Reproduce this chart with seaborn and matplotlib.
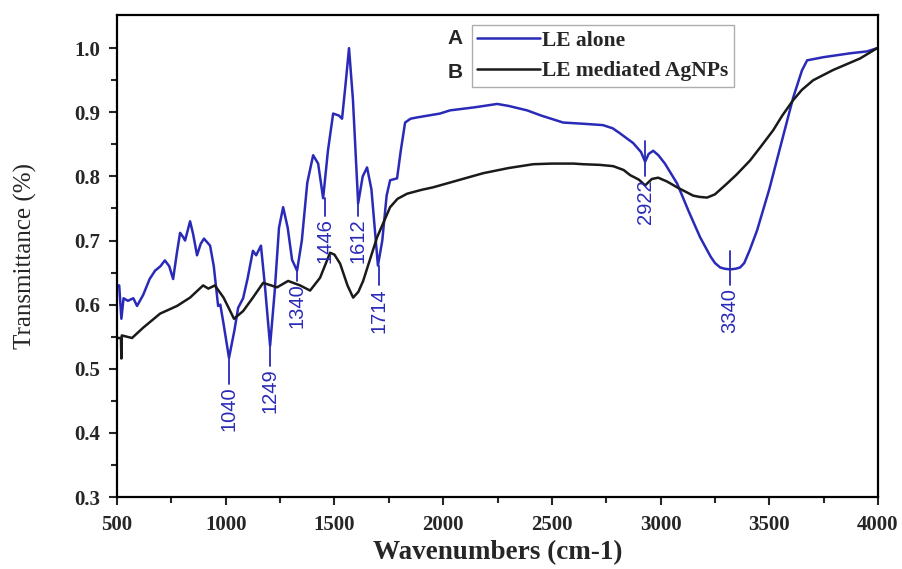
import pandas as pd
import matplotlib
matplotlib.use("Agg")
import matplotlib.pyplot as plt
import seaborn as sns

# FTIR spectra (wavenumber, transmittance)
wn_le = [505, 510, 520, 530, 550, 575, 592, 620, 650, 675, 700, 720, 740, 758, 775,
         790, 805, 813, 836, 850, 868, 885, 900, 928, 945, 965, 975, 990, 1015, 1040,
         1057, 1080, 1100, 1125, 1140, 1162, 1180, 1204, 1225, 1245, 1264, 1285, 1305,
         1328, 1350, 1375, 1402, 1425, 1448, 1470, 1494, 1520, 1535, 1550, 1567, 1585,
         1609, 1630, 1650, 1670, 1700, 1720, 1740, 1756, 1788, 1805, 1825, 1850, 1880,
         1985, 2032, 2150, 2248, 2300, 2386, 2450, 2552, 2650, 2735, 2780, 2814, 2874,
         2910, 2929, 2945, 2966, 2990, 3020, 3076, 3130, 3182, 3230, 3250, 3274, 3295,
         3320, 3345, 3366, 3385, 3410, 3444, 3500, 3550, 3610, 3650, 3674, 3750, 3872,
         3950, 3996]
t_le = [0.63, 0.63, 0.578, 0.61, 0.606, 0.61, 0.598, 0.615, 0.64, 0.653, 0.66, 0.669,
        0.66, 0.64, 0.68, 0.712, 0.705, 0.70, 0.73, 0.71, 0.677, 0.695, 0.703, 0.692,
        0.66, 0.598, 0.60, 0.57, 0.517, 0.56, 0.595, 0.61, 0.64, 0.684, 0.677, 0.692,
        0.63, 0.536, 0.62, 0.72, 0.752, 0.72, 0.67, 0.653, 0.70, 0.79, 0.833, 0.82,
        0.766, 0.84, 0.898, 0.895, 0.89, 0.94, 1.0, 0.92, 0.758, 0.80, 0.814, 0.78,
        0.661, 0.70, 0.77, 0.794, 0.797, 0.84, 0.884, 0.89, 0.892, 0.898, 0.903, 0.908,
        0.913, 0.91, 0.903, 0.895, 0.884, 0.882, 0.880, 0.875, 0.867, 0.852, 0.838,
        0.823, 0.835, 0.84, 0.833, 0.82, 0.789, 0.745, 0.705, 0.675, 0.665, 0.658,
        0.656, 0.655, 0.656, 0.658, 0.665, 0.685, 0.716, 0.78, 0.845, 0.923, 0.965,
        0.981, 0.986, 0.992, 0.995, 1.0]

wn_ag = [505, 518, 520, 522, 569, 620, 698, 776, 836, 896, 920, 950, 990, 1038, 1080,
         1125, 1172, 1236, 1287, 1342, 1388, 1434, 1480, 1500, 1526, 1560, 1586, 1610,
         1632, 1696, 1756, 1790, 1834, 1900, 1954, 2184, 2300, 2414, 2500, 2600, 2644,
         2720, 2782, 2830, 2860, 2900, 2929, 2960, 2989, 3030, 3076, 3150, 3180, 3214,
         3250, 3306, 3350, 3412, 3460, 3518, 3560, 3610, 3650, 3702, 3794, 3918, 3996]
t_ag = [0.548, 0.548, 0.516, 0.552, 0.548, 0.564, 0.586, 0.598, 0.611, 0.63, 0.625,
        0.63, 0.611, 0.578, 0.59, 0.611, 0.634, 0.627, 0.637, 0.63, 0.622, 0.642, 0.681,
        0.678, 0.664, 0.63, 0.611, 0.62, 0.637, 0.705, 0.752, 0.765, 0.773, 0.779,
        0.783, 0.805, 0.813, 0.819, 0.820, 0.820, 0.819, 0.818, 0.816, 0.810, 0.802,
        0.795, 0.786, 0.796, 0.798, 0.792, 0.783, 0.770, 0.768, 0.767, 0.772, 0.789,
        0.803, 0.825, 0.846, 0.872, 0.895, 0.919, 0.935, 0.95, 0.966, 0.984, 1.0]

series_names = ["LE alone", "LE mediated AgNPs"]

# peak markers on the blue trace: position, label, top/bottom of tick line
peak_pos = [1015, 1204, 1328, 1457, 1609, 1705, 2929, 3320]
peak_text = ["1040", "1249", "1340", "1446", "1612", "1714", "2922", "3340"]
peak_top = [0.517, 0.536, 0.653, 0.766, 0.758, 0.661, 0.856, 0.684]
peak_bot = [0.477, 0.505, 0.637, 0.739, 0.739, 0.630, 0.800, 0.630]

df = pd.concat([
    pd.DataFrame({"wn": wn_le, "T": t_le, "sample": series_names[0]}),
    pd.DataFrame({"wn": wn_ag, "T": t_ag, "sample": series_names[1]}),
])

sns.set_style("ticks")
plt.rcParams["font.family"] = ["Liberation Serif", "DejaVu Serif"]

blue = "#2a2ab8"
fig = plt.figure(figsize=(9.03, 5.69), dpi=100)
ax = fig.add_axes([0.1296, 0.1265, 0.8427, 0.847])

sns.lineplot(data=df, x="wn", y="T", hue="sample", palette=[blue, "#1a1a1a"],
             estimator=None, sort=False, linewidth=1.8, ax=ax)

# peak labels
for x, lab, y0, y1 in zip(peak_pos, peak_text, peak_top, peak_bot):
    ax.plot([x, x], [y0, y1], color=blue, lw=1.3)
    ax.text(x, y1 - 0.004, lab, rotation=90, ha="center", va="top", color=blue,
            fontsize=14.5, family=["Liberation Sans", "DejaVu Sans"])

ax.set_xlim(500, 4000)
ax.set_ylim(0.3, 1.0516)
ax.set_xticks(range(500, 4001, 500))
ax.set_xticks(range(750, 4000, 500), minor=True)
ax.set_yticks([0.3, 0.4, 0.5, 0.6, 0.7, 0.8, 0.9, 1.0])
ax.set_yticks([0.35, 0.45, 0.55, 0.65, 0.75, 0.85, 0.95], minor=True)
ax.tick_params(which="major", length=6, width=1.5, labelsize=15)
ax.tick_params(which="minor", length=4, width=1.5)
ax.tick_params(axis="x", which="major", pad=7)
ax.tick_params(axis="y", which="major", pad=6)
for lbl in ax.get_xticklabels() + ax.get_yticklabels():
    lbl.set_fontweight("bold")
for sp in ax.spines.values():
    sp.set_linewidth(1.6)
    sp.set_color("black")

ax.set_xlabel("Wavenumbers (cm-1)", fontsize=19.5, fontweight="bold", va="center")
ax.xaxis.set_label_coords(0.5007, -0.116)
ax.set_ylabel("Transmittance (%)", fontsize=18, va="center")
ax.yaxis.set_label_coords(-0.12, 0.5)

leg = ax.legend(loc="upper left", bbox_to_anchor=(0.4665, 0.979), borderaxespad=0,
                frameon=True, fancybox=False, handlelength=2.9, handletextpad=0.1,
                borderpad=0.25, labelspacing=0.5,
                prop={"family": "Liberation Serif", "weight": "bold", "size": 15.5})
leg.get_frame().set_edgecolor("#999999")
leg.get_frame().set_linewidth(1.0)
for h in leg.get_lines():
    h.set_linewidth(1.8)

fig.text(0.504, 0.933, "A", fontsize=15, fontweight="bold", ha="center", va="center",
         family=["Liberation Sans", "DejaVu Sans"])
fig.text(0.504, 0.872, "B", fontsize=15, fontweight="bold", ha="center", va="center",
         family=["Liberation Sans", "DejaVu Sans"])

fig.savefig("out.png", dpi=100)
